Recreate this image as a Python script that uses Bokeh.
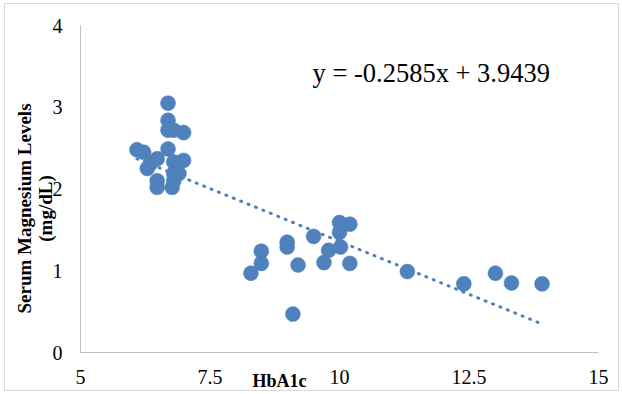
import numpy as np
from bokeh.plotting import figure
from bokeh.models import Range1d, FixedTicker, Label, ColumnDataSource, CustomJSTickFormatter
from bokeh.core.properties import value
from bokeh.embed import file_html
from bokeh.resources import INLINE

# --- data ---
hba1c = [6.69, 6.69, 6.69, 6.99, 6.80, 6.09, 6.22, 6.69, 6.99, 6.48,
         6.35, 6.80, 6.29, 6.90, 6.80, 6.48, 6.48, 6.77, 6.80,
         10.00, 10.20, 10.00, 9.50, 8.99, 8.99, 10.02, 9.79, 8.49, 8.49,
         8.29, 9.20, 9.70, 10.20, 9.10,
         11.31, 12.40, 13.01, 13.32, 13.91]
magnesium = [3.05, 2.84, 2.72, 2.69, 2.72, 2.48, 2.45, 2.49, 2.35, 2.37,
             2.31, 2.33, 2.25, 2.19, 2.19, 2.10, 2.02, 2.02, 2.10,
             1.59, 1.57, 1.47, 1.42, 1.35, 1.29, 1.29, 1.25, 1.24, 1.09,
             0.97, 1.07, 1.10, 1.09, 0.47,
             0.99, 0.84, 0.97, 0.85, 0.84]
slope = -0.2585
intercept = 3.9439
x_ticks = [5, 7.5, 10, 12.5, 15]
x_tick_labels = ["5", "7.5", "10", "12.5", "15"]
y_ticks = [0, 1, 2, 3, 4]
y_tick_labels = ["0", "1", "2", "3", "4"]
equation_text = "y = -0.2585x + 3.9439"
x_title = "HbA1c"
y_title_lines = ["Serum Magnesium Levels", "(mg/dL)"]

BLUE = "#4F81BD"
AXIS = "#BFBFBF"
SERIF = "'Liberation Serif', 'Times New Roman', serif"

# pixel geometry of the plot area (x: 5 -> 80px, 15 -> 598px; y: 0 -> 352px, 4 -> 25px)
PX_X0, PX_PER_X = 80.0, 51.8
PX_Y0, PX_PER_Y = 352.0, 81.75
W, H = 620, 392
L, T, R, B = 4, 3, 2, 2


def dx(px):
    return 5 + (px - PX_X0) / PX_PER_X


def dy(py):
    return (PX_Y0 - py) / PX_PER_Y


p = figure(width=W, height=H, output_backend="svg", toolbar_location=None,
           x_range=Range1d(dx(L), dx(W - R)), y_range=Range1d(dy(H - B), dy(T)),
           min_border_left=L, min_border_right=R, min_border_top=T,
           min_border_bottom=B)
p.outline_line_color = "#D9D9D9"
p.outline_line_width = 1
p.background_fill_color = "white"
p.border_fill_color = "white"
p.grid.visible = False

p.axis.axis_line_color = AXIS
p.axis.axis_line_width = 1
p.axis.major_tick_line_color = None
p.axis.minor_tick_line_color = None
p.axis.major_tick_out = 0
p.axis.major_tick_in = 0
p.axis.formatter = CustomJSTickFormatter(code="return ''")

p.xaxis.ticker = FixedTicker(ticks=x_ticks)
p.yaxis.ticker = FixedTicker(ticks=y_ticks)
p.xaxis.fixed_location = 0
p.yaxis.fixed_location = 5
p.xaxis.bounds = (5, 15)
p.yaxis.bounds = (0, 4)

# tick labels (serif), placed at the tick values
p.text(x=x_ticks, y=[0] * len(x_ticks), text=x_tick_labels,
       text_font=value(SERIF), text_font_size="20px", text_color="#000000",
       text_align="center", text_baseline="middle", y_offset=24)
p.text(x=[5] * len(y_ticks), y=y_ticks, text=y_tick_labels,
       text_font=value(SERIF), text_font_size="20px", text_color="#000000",
       text_align="right", text_baseline="middle", x_offset=-18)

# trendline
xs = np.array([min(hba1c), max(hba1c)])
p.line(xs, slope * xs + intercept, line_color=BLUE, line_width=3,
       line_dash="1 7", line_cap="round")

src = ColumnDataSource(dict(x=hba1c, y=magnesium))
p.scatter("x", "y", source=src, size=15, fill_color=BLUE, line_color=BLUE,
          line_width=0.5)

p.add_layout(Label(x=dx(312), y=dy(72), text=equation_text, text_font=SERIF,
                   text_font_size="26.5px", text_color="#000000",
                   text_baseline="alphabetic", text_align="left"))
p.add_layout(Label(x=dx(279), y=dy(380), text=x_title, text_font=SERIF,
                   text_font_size="18px", text_font_style="bold",
                   text_color="#000000", text_baseline="alphabetic",
                   text_align="center"))
p.add_layout(Label(x=dx(24), y=dy(208), text=y_title_lines[0], text_font=SERIF,
                   text_font_size="19px", text_font_style="bold",
                   text_color="#000000", text_baseline="middle",
                   text_align="center", angle=np.pi / 2))
p.add_layout(Label(x=dx(45), y=dy(208), text=y_title_lines[1], text_font=SERIF,
                   text_font_size="19px", text_font_style="bold",
                   text_color="#000000", text_baseline="middle",
                   text_align="center", angle=np.pi / 2))

open("out.html", "w").write(file_html(p, INLINE))
